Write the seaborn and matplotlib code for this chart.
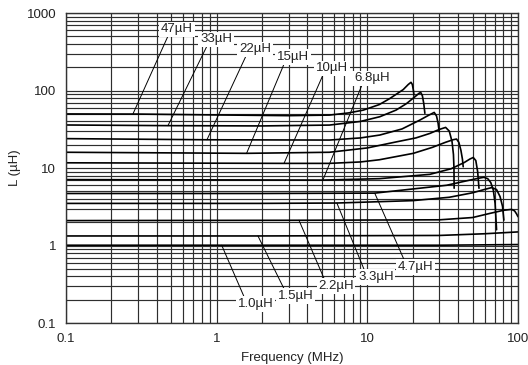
import numpy as np
import pandas as pd
import matplotlib
matplotlib.use("Agg")
import matplotlib.pyplot as plt
import seaborn as sns

# L vs frequency curves (MHz, uH)
f_47 = [0.1, 0.3, 1, 3, 5.6, 7.5, 9.4, 12, 14.1, 17.3, 18.7, 19.5, 19.9, 20.2, 20.4]
L_47 = [50, 49.8, 48.5, 47.5, 48.3, 51.5, 56, 66, 79, 103, 120, 128, 120, 102, 88]

f_33 = [0.1, 0.47, 2, 5.6, 9, 12.1, 15.5, 18.2, 20.5, 22, 22.6, 23.2, 23.7, 24.1]
L_33 = [36, 35.3, 35, 35.9, 40, 46, 56, 68, 82, 92, 95, 86, 68, 51]

f_22 = [0.1, 0.86, 5.6, 9, 12.1, 17, 22.3, 25.5, 27.8, 28.8, 29.5, 30.0]
L_22 = [24, 23.2, 23, 24.5, 26.7, 32, 41.6, 48, 52.3, 47, 38, 29.4]

f_15 = [0.1, 1.58, 5.6, 10, 15.6, 21, 26, 30, 33.1, 35, 36.5, 37.3, 37.6, 37.7]
L_15 = [16, 15.5, 16.0, 18.2, 21.8, 24.5, 28, 31.5, 33.5, 30, 22, 15, 10, 5.5]

f_10 = [0.1, 2.8, 5.6, 9, 12, 20.2, 27, 33, 37, 39.1, 40.5, 41.8, 42.8, 43.3]
L_10 = [11.7, 11.5, 11.5, 12.0, 12.8, 15.5, 18.5, 21.5, 23.2, 23.7, 21.5, 17, 13, 10.4]

f_6u8 = [0.1, 5.07, 12, 26, 36, 44, 48, 50.5, 52.5, 54, 55.1]
L_6u8 = [7.1, 7.0, 7.3, 8.3, 9.8, 11.8, 13.1, 13.7, 12.5, 9, 5.5]

f_4u7 = [0.1, 1.9, 11.2, 33.6, 48, 55, 59.4, 63, 66, 68.6, 70.5, 72.1]
L_4u7 = [4.7, 4.7, 4.75, 6.0, 7.0, 7.4, 7.6, 7.3, 6.5, 5.2, 3.5, 1.6]

f_3u3 = [0.1, 1.9, 6.28, 20, 35, 50, 60, 66.8, 72, 76, 79, 80.6]
L_3u3 = [3.5, 3.5, 3.54, 3.8, 4.2, 4.8, 5.3, 5.6, 5.3, 4.3, 3.2, 2.13]

f_2u2 = [0.1, 3.52, 30.3, 50, 65.1, 80, 90.7, 95, 98, 100]
L_2u2 = [2.1, 2.12, 2.15, 2.3, 2.6, 2.85, 2.93, 2.8, 2.55, 2.36]

f_1u5 = [0.1, 1.88, 30, 60, 100]
L_1u5 = [1.33, 1.33, 1.35, 1.42, 1.5]

f_1u0 = [0.1, 1.08, 30, 100]
L_1u0 = [1.01, 1.01, 1.01, 1.03]

names = ["47µH", "33µH", "22µH", "15µH", "10µH", "6.8µH",
         "4.7µH", "3.3µH", "2.2µH", "1.5µH", "1.0µH"]
freqs = [f_47, f_33, f_22, f_15, f_10, f_6u8, f_4u7, f_3u3, f_2u2, f_1u5, f_1u0]
induct = [L_47, L_33, L_22, L_15, L_10, L_6u8, L_4u7, L_3u3, L_2u2, L_1u5, L_1u0]

# label placement and where each leader line touches its curve
label_f = [0.545, 0.99, 1.795, 3.21, 5.82, 10.7, 21.0, 11.4, 6.19, 3.36, 1.82]
label_L = [622, 462, 343, 271, 195, 145, 0.528, 0.393, 0.300, 0.223, 0.176]
leader_f = [0.278, 0.475, 0.862, 1.58, 2.80, 5.07, 11.2, 6.28, 3.52, 1.88, 1.08]

rows = []
for name, fs, ls in zip(names, freqs, induct):
    for f, l in zip(fs, ls):
        rows.append({"part": name, "freq": f, "L": l})
df = pd.DataFrame(rows)

sns.set_style("white")
plt.rcParams["font.family"] = ["Liberation Sans", "DejaVu Sans"]

fig = plt.figure(figsize=(5.28, 3.65), dpi=100)
ax = fig.add_axes([0.125, 0.115, 0.856, 0.849])

sns.lineplot(data=df, x="freq", y="L", hue="part", units="part",
             estimator=None, sort=False, palette=["black"] * len(names),
             linewidth=1.2, legend=False, ax=ax, zorder=2)

ax.set_xscale("log")
ax.set_yscale("log")
ax.set_xlim(0.1, 100)
ax.set_ylim(0.1, 1000)
ax.set_xticks([0.1, 1, 10, 100], labels=["0.1", "1", "10", "100"])
ax.set_yticks([0.1, 1, 10, 100, 1000], labels=["0.1", "1", "10", "100", "1000"])
ax.xaxis.set_minor_formatter(matplotlib.ticker.NullFormatter())
ax.yaxis.set_minor_formatter(matplotlib.ticker.NullFormatter())
ax.tick_params(which="both", length=0, labelsize=9.5, colors="#222222", pad=7)

ax.grid(True, which="both", color="#2e2e2e", linewidth=0.85)
ax.set_axisbelow(True)
for s in ax.spines.values():
    s.set_color("#333333")
    s.set_linewidth(1.0)

for i, name in enumerate(names):
    fs = np.log10(freqs[i])
    ls = np.log10(induct[i])
    lf = leader_f[i]
    lL = 10 ** np.interp(np.log10(lf), fs, ls)
    rel = (0.25, 0.1) if i < 6 else (0.2, 0.9)
    ax.annotate(name, xy=(lf, lL), xytext=(label_f[i], label_L[i]),
                ha="center", va="center", fontsize=9.5, color="#222222",
                bbox=dict(boxstyle="square,pad=0.12", fc="white", ec="none"),
                arrowprops=dict(arrowstyle="-", color="black", lw=0.7,
                                shrinkA=0, shrinkB=0, relpos=rel),
                zorder=4)

ax.set_xlabel("Frequency (MHz)", fontsize=9.5, color="#222222", labelpad=5)
ax.set_ylabel("L (µH)", fontsize=9.5, color="#222222", labelpad=4)

fig.savefig("out.png", dpi=100)
